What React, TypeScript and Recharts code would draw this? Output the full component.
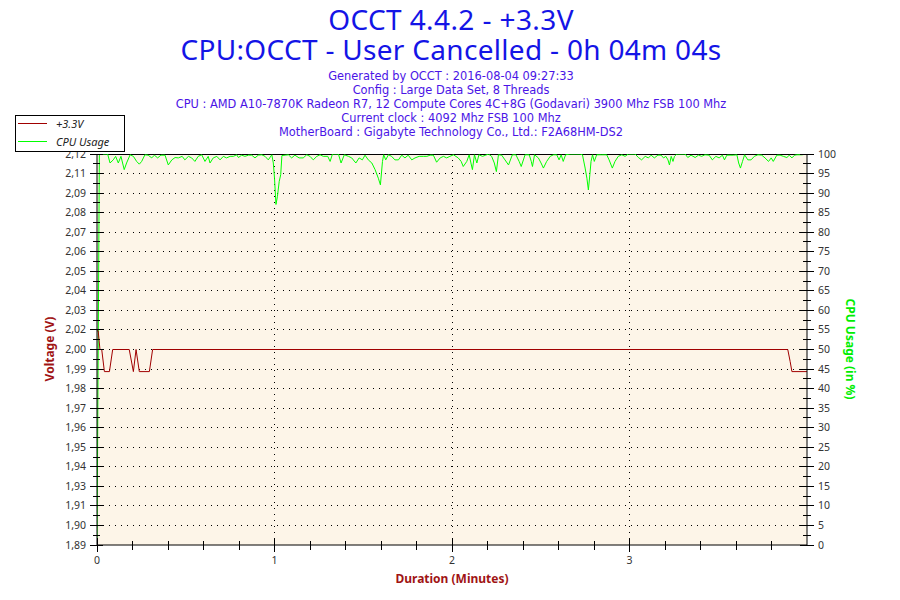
import React from 'react';
import { LineChart, Line, XAxis, YAxis, ReferenceLine, CartesianGrid, Legend } from 'recharts';

// ---------- texts ----------
const titleLines = ['OCCT 4.4.2 - +3.3V', 'CPU:OCCT - User Cancelled - 0h 04m 04s'];
const infoLines = [
  'Generated by OCCT : 2016-08-04 09:27:33',
  'Config : Large Data Set, 8 Threads',
  'CPU : AMD A10-7870K Radeon R7, 12 Compute Cores 4C+8G (Godavari) 3900 Mhz FSB 100 Mhz',
  'Current clock : 4092 Mhz FSB 100 Mhz',
  'MotherBoard : Gigabyte Technology Co., Ltd.: F2A68HM-DS2',
];
const seriesNames = ['+3.3V', 'CPU Usage'];
const axisTitles = { left: 'Voltage (V)', right: 'CPU Usage (in %)', bottom: 'Duration (Minutes)' };

// ---------- axes ----------
const voltMin = 1.89;
const voltMax = 2.12;
const voltTickLabels = [
  '1,89', '1,90', '1,91', '1,93', '1,94', '1,95', '1,96', '1,97', '1,98', '1,99', '2,00',
  '2,02', '2,03', '2,04', '2,05', '2,06', '2,07', '2,08', '2,09', '2,11', '2,12',
];
const cpuTickLabels = ['0', '5', '10', '15', '20', '25', '30', '35', '40', '45', '50', '55', '60', '65', '70', '75', '80', '85', '90', '95', '100'];
const xTickLabels = ['0', '1', '2', '3'];
const durationSeconds = 240; // axis end (seconds)
const secondsPerMinute = 60;
const xMinorPerMajor = 5;

// ---------- data (seconds) ----------
const voltTime = [0, 0.4, 1.0, 1.6, 2.5, 4.2, 5.3, 10.9, 12.3, 13.2, 14.3, 17.7, 18.8, 233.5, 234.3, 234.9, 240];
const voltValue = [2.016, 2.016, 2.005, 2.005, 1.992, 1.992, 2.005, 2.005, 1.992, 2.005, 1.992, 1.992, 2.005, 2.005, 1.998, 1.992, 1.992];

const cpuTime = [
  0, 0.8, 1.35, 3.6, 4.4, 5.5, 6.3, 7.2, 8.1, 9.2, 10.0, 11.2, 12.3, 13.4, 14.3, 15.1, 16.2, 17.3, 18.5, 19.4,
  20.5, 21.6, 23.0, 24.1, 25.3, 26.4, 27.5, 28.8, 29.7, 30.9, 32.0, 33.1, 34.2, 35.4, 36.5, 37.6, 38.2, 39.3, 40.5, 41.6,
  42.7, 43.8, 45.0, 46.1, 47.2, 47.8, 48.9, 50.0, 51.2, 52.3, 53.4, 54.5, 55.7, 56.8, 57.9, 59.1, 59.6, 60.0, 60.5, 61.0,
  61.6, 62.1, 62.5, 63.6, 64.7, 65.8, 66.9, 68.3, 69.7, 70.9, 72.0, 73.1, 74.3, 75.4, 76.5, 78.0, 78.8, 79.6, 81.6, 82.5,
  83.6, 85.0, 86.1, 87.5, 88.6, 89.7, 90.6, 91.7, 92.9, 94.0, 95.1, 95.8, 96.5, 96.9, 97.6, 98.5, 99.6, 100.7, 101.9, 103.0,
  104.1, 105.2, 106.4, 107.5, 108.9, 110.3, 111.5, 112.6, 113.7, 114.8, 116.0, 117.1, 118.2, 119.3, 120.5, 122.1, 123.1, 123.8, 125.0, 125.8,
  126.4, 126.9, 127.6, 128.4, 129.1, 130.3, 131.4, 132.3, 133.4, 134.3, 135.0, 135.7, 136.8, 137.9, 139.1, 140.4, 141.6, 142.7, 143.4, 144.7,
  146.1, 146.8, 147.2, 147.9, 149.2, 150.1, 150.9, 152.0, 153.2, 154.3, 155.4, 156.2, 156.9, 157.6, 158.4, 159.9, 161.6, 163.3, 164.1, 165.0,
  165.6, 166.1, 166.6, 167.0, 167.5, 168.1, 168.9, 170.6, 172.3, 173.1, 174.2, 175.1, 176.2, 177.4, 178.5, 179.6, 181.9, 183.0, 184.1, 185.3,
  186.4, 187.3, 188.4, 189.6, 190.7, 191.5, 192.3, 193.0, 193.5, 194.1, 194.7, 195.2, 196.0, 198.8, 199.7, 200.8, 202.2, 203.3, 204.4, 205.5,
  206.9, 208.0, 209.2, 210.3, 211.4, 212.1, 212.9, 214.0, 215.2, 216.3, 216.9, 217.5, 218.2, 218.9, 220.0, 221.1, 222.2, 223.4, 224.7, 225.8,
  227.0, 227.9, 228.6, 229.8, 230.9, 232.0, 233.2, 234.0, 234.9, 235.8, 236.6, 238.3, 240,
];
const cpuValue = [
  0, 99.7, 100, 100, 97.7, 98.5, 99.4, 97.7, 99.4, 96.0, 97.7, 99.8, 99.4, 98.1, 97.4, 98.1, 99.8, 99.7, 99.0, 99.7,
  99.0, 99.7, 99.7, 97.2, 98.5, 99.1, 99.0, 99.4, 98.5, 99.4, 99.0, 98.1, 99.4, 99.8, 98.1, 99.4, 97.7, 99.0, 99.4, 98.5,
  99.4, 99.0, 99.4, 99.4, 99.8, 99.1, 99.7, 99.4, 99.7, 99.7, 99.0, 99.7, 99.8, 99.4, 98.5, 99.8, 97.7, 93.8, 87.1, 89.2,
  93.0, 94.7, 99.6, 99.7, 99.8, 99.0, 99.7, 99.0, 99.0, 99.8, 99.4, 98.5, 99.4, 99.8, 99.4, 99.4, 98.1, 100, 100, 97.7,
  99.8, 99.4, 99.0, 97.7, 99.0, 98.5, 99.7, 98.5, 97.7, 96.0, 93.8, 92.1, 98.1, 99.8, 98.5, 99.8, 99.4, 98.5, 98.5, 99.7,
  99.0, 99.7, 98.5, 99.0, 99.4, 99.4, 99.4, 99.7, 99.7, 97.9, 99.0, 99.4, 99.0, 99.4, 99.8, 99.0, 98.1, 96.8, 98.1, 99.8,
  97.7, 96.0, 99.8, 97.7, 99.8, 99.4, 99.7, 100, 99.4, 97.7, 95.5, 99.8, 99.7, 98.5, 97.2, 99.8, 99.8, 98.1, 96.8, 99.8,
  99.8, 98.1, 96.8, 99.8, 99.0, 97.7, 96.4, 98.1, 99.4, 99.8, 99.8, 98.5, 99.8, 98.1, 99.8, 100, 100, 100, 99.8, 96.4,
  93.8, 90.8, 94.7, 98.1, 99.8, 98.1, 99.8, 99.8, 99.8, 98.5, 96.4, 98.1, 99.4, 99.8, 99.4, 100, 100, 99.1, 98.5, 99.4,
  99.0, 99.7, 99.0, 99.7, 99.7, 99.0, 99.4, 98.5, 97.2, 99.4, 98.1, 99.4, 100, 100, 99.1, 99.7, 99.1, 99.7, 99.4, 99.8,
  99.7, 98.5, 99.4, 99.0, 99.7, 98.5, 99.7, 99.7, 99.7, 99.8, 97.7, 96.4, 98.1, 99.8, 98.5, 98.5, 99.4, 99.8, 99.7, 99.0,
  98.1, 99.0, 98.1, 99.7, 99.7, 99.4, 99.1, 99.7, 99.0, 99.7, 99.8, 99.8, 100,
];

// ---------- colours ----------
const voltColor = '#a00000';
const cpuColor = '#00ff00';
const titleColor = '#1414e6';
const infoColor = '#4a14e6';
const tickColor = '#333333';
const plotBg = '#fdf5e8';
const FONT = '"Noto Sans", "DejaVu Sans", sans-serif';
const INFO_FONT = '"DejaVu Sans", "Noto Sans", sans-serif';

// ---------- derived tables ----------
const voltData = voltTime.map((t, i) => ({ t, v: voltValue[i] }));
const cpuData = cpuTime.map((t, i) => ({ t, c: cpuValue[i] }));

const voltHalfStep = (voltMax - voltMin) / ((voltTickLabels.length - 1) * 2);
const voltTicks = Array.from({ length: (voltTickLabels.length - 1) * 2 + 1 }, (_, j) => voltMin + j * voltHalfStep);
const voltMajor = voltTickLabels.map((_, j) => voltMin + j * 2 * voltHalfStep);
const cpuHalfStep = 2.5;
const cpuTicks = Array.from({ length: (cpuTickLabels.length - 1) * 2 + 1 }, (_, j) => j * cpuHalfStep);
const xMinorStep = secondsPerMinute / xMinorPerMajor;
const xTicks = Array.from({ length: Math.floor((durationSeconds - 1) / xMinorStep) + 1 }, (_, j) => j * xMinorStep);

function VoltTick(props: any) {
  const { x, y, payload } = props;
  const j = Math.round((payload.value - voltMin) / voltHalfStep);
  const major = j % 2 === 0;
  return (
    <g>
      <line x1={major ? x - 7 : x - 4} x2={major ? x + 6 : x + 3} y1={y} y2={y} stroke="#000" shapeRendering="crispEdges" />
      {major && (
        <text x={x - 11} y={y} dy={3.5} textAnchor="end" fontSize={10.5} fill={tickColor} fontFamily={FONT}>
          {voltTickLabels[j / 2]}
        </text>
      )}
    </g>
  );
}

function CpuTick(props: any) {
  const { x, y, payload } = props;
  const j = Math.round(payload.value / cpuHalfStep);
  const major = j % 2 === 0;
  return (
    <g>
      <line x1={major ? x - 7 : x - 4} x2={major ? x + 7 : x + 4} y1={y} y2={y} stroke="#000" shapeRendering="crispEdges" />
      {major && (
        <text x={x + 11} y={y} dy={3.5} textAnchor="start" fontSize={10.5} fill={tickColor} fontFamily={FONT}>
          {cpuTickLabels[j / 2]}
        </text>
      )}
    </g>
  );
}

function TimeTick(props: any) {
  const { x, y, payload } = props;
  const j = Math.round(payload.value / xMinorStep);
  const major = j % xMinorPerMajor === 0;
  return (
    <g>
      <line x1={x} x2={x} y1={major ? y - 7 : y - 4} y2={major ? y + 7 : y + 5} stroke="#000" shapeRendering="crispEdges" />
      {major && (
        <text x={x} y={y + 19} textAnchor="middle" fontSize={10.5} fill={tickColor} fontFamily={FONT}>
          {xTickLabels[j / xMinorPerMajor]}
        </text>
      )}
    </g>
  );
}

function LegendBox() {
  return (
    <div
      style={{
        width: 110,
        height: 37,
        boxSizing: 'border-box',
        border: '1px solid #000',
        background: '#fff',
      }}
    >
      <svg width={108} height={35}>
        <line x1={2} x2={31} y1={7.5} y2={7.5} stroke={voltColor} />
        <text x={40} y={11.5} fontSize={11} fontStyle="italic" fill="#222" fontFamily={FONT}>
          {seriesNames[0]}
        </text>
        <line x1={2} x2={31} y1={25.5} y2={25.5} stroke={cpuColor} />
        <text x={40} y={29.5} fontSize={11} fontStyle="italic" fill="#222" fontFamily={FONT}>
          {seriesNames[1]}
        </text>
      </svg>
    </div>
  );
}

export default function App() {
  return (
    <div style={{ position: 'absolute', left: 0, top: 0, width: 900, height: 600, background: '#fff' }}>
      <LineChart width={900} height={600} margin={{ top: 154, right: 33, bottom: 25, left: 37 }}>
        <CartesianGrid yAxisId="v" horizontal={false} vertical={false} fill={plotBg} stroke="none" />
        <XAxis
          dataKey="t"
          type="number"
          domain={[0, durationSeconds]}
          allowDataOverflow
          ticks={xTicks}
          interval={0}
          tick={<TimeTick />}
          tickLine={false}
          tickSize={0}
          tickMargin={0}
          height={30}
          axisLine={{ stroke: '#000' }}
        />
        <YAxis
          yAxisId="v"
          type="number"
          domain={[voltMin, voltMax]}
          allowDataOverflow
          ticks={voltTicks}
          interval={0}
          tick={<VoltTick />}
          tickLine={false}
          tickSize={0}
          tickMargin={0}
          width={60}
          axisLine={{ stroke: '#000' }}
        />
        <YAxis
          yAxisId="c"
          orientation="right"
          type="number"
          domain={[0, 100]}
          allowDataOverflow
          ticks={cpuTicks}
          interval={0}
          tick={<CpuTick />}
          tickLine={false}
          tickSize={0}
          tickMargin={0}
          width={60}
          axisLine={{ stroke: '#000' }}
        />
        {voltMajor.slice(1, -1).map((v, i) => (
          <ReferenceLine key={'h' + i} yAxisId="v" y={v} stroke="#000" strokeDasharray="1 5" shapeRendering="crispEdges" />
        ))}
        {xTickLabels.slice(1).map((_, i) => (
          <ReferenceLine
            key={'vx' + i}
            yAxisId="v"
            x={(i + 1) * secondsPerMinute}
            stroke="#000"
            strokeDasharray="1 5"
            shapeRendering="crispEdges"
          />
        ))}
        <ReferenceLine yAxisId="v" y={voltMax} stroke="#000" shapeRendering="crispEdges" />
        <Line
          yAxisId="c"
          data={cpuData}
          dataKey="c"
          type="linear"
          stroke={cpuColor}
          strokeWidth={1}
          dot={false}
          activeDot={false}
          isAnimationActive={false}
          name={seriesNames[1]}
        />
        <Line
          yAxisId="v"
          data={voltData}
          dataKey="v"
          type="linear"
          stroke={voltColor}
          strokeWidth={1}
          dot={false}
          activeDot={false}
          isAnimationActive={false}
          name={seriesNames[0]}
        />
        <Legend
          layout="horizontal"
          verticalAlign="middle"
          align="center"
          content={() => <LegendBox />}
          wrapperStyle={{ left: 15, top: 115, width: 110, height: 37 }}
        />
      </LineChart>
      <svg
        width={900}
        height={600}
        style={{ position: 'absolute', left: 0, top: 0, pointerEvents: 'none' }}
        fontFamily={FONT}
      >
        <text x={451} y={30} textAnchor="middle" fontSize={28} fill={titleColor} letterSpacing={0.4}>
          {titleLines[0]}
        </text>
        <text x={451} y={60} textAnchor="middle" fontSize={28} fill={titleColor} letterSpacing={0.3}>
          {titleLines[1]}
        </text>
        {infoLines.map((s, i) => (
          <text
            key={i}
            x={451}
            y={80 + i * 13.9}
            textAnchor="middle"
            fontSize={11.4}
            fill={infoColor}
            fontFamily={INFO_FONT}
          >
            {s}
          </text>
        ))}
        <text
          transform="translate(54,349) rotate(-90)"
          textAnchor="middle"
          fontSize={12}
          fontWeight="bold"
          fill="#a01414"
        >
          {axisTitles.left}
        </text>
        <text
          transform="translate(846,349) rotate(90)"
          textAnchor="middle"
          fontSize={12}
          fontWeight="bold"
          fill="#00ee00"
        >
          {axisTitles.right}
        </text>
        <text x={452} y={583} textAnchor="middle" fontSize={12} fontWeight="bold" fill="#a01414">
          {axisTitles.bottom}
        </text>
      </svg>
    </div>
  );
}
